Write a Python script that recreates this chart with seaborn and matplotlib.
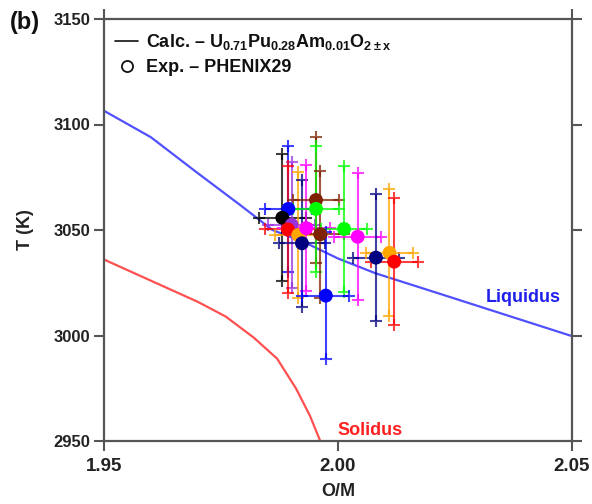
import matplotlib
matplotlib.use("Agg")
import matplotlib.pyplot as plt
import seaborn as sns
import numpy as np
import pandas as pd
from matplotlib.lines import Line2D

# ---- data ----
liq_x = [1.95, 1.96, 1.97, 1.979, 1.986, 1.993, 2.000, 2.008, 2.022, 2.05]
liq_T = [3106.5, 3094, 3077, 3062, 3050, 3044, 3036.5, 3029.5, 3019.6, 2999.7]

sol_x = [1.95, 1.96, 1.97, 1.976, 1.982, 1.987, 1.991, 1.994, 1.9962]
sol_T = [3036, 3026, 3016, 3009, 2999, 2989, 2975, 2962, 2950]

exp_x = [1.9894, 1.9881, 1.9901, 1.9893, 1.9915, 1.9923, 1.9932, 1.9953,
         1.9953, 1.9962, 2.0013, 2.0042, 1.9974, 2.0081, 2.0110, 2.0120]
exp_T = [3060.0, 3055.8, 3052.4, 3050.3, 3047.6, 3043.7, 3050.9, 3064.2,
         3060.0, 3048.0, 3050.5, 3046.8, 3018.9, 3036.9, 3039.2, 3035.0]
exp_xerr = [0.005] * 16
exp_Terr = [30] * 16
exp_col = ["#0000ff", "#000000", "#9a30e0", "#ff0000", "#ffa500", "#000080",
           "#ff00ff", "#7f2200", "#00ff00", "#7f2200", "#00ff00", "#ff00ff",
           "#0000ff", "#000080", "#ffa500", "#ff0000"]

xticks = [1.95, 2.00, 2.05]
xticklabels = ["1.95", "2.00", "2.05"]
top_ticks = [1.95, 2.05]
yticks = [2950, 3000, 3050, 3100, 3150]

# ---- style ----
sns.set_theme(style="white")
plt.rcParams["font.family"] = ["Liberation Sans", "DejaVu Sans"]
plt.rcParams["font.weight"] = "bold"
plt.rcParams["mathtext.fontset"] = "custom"
plt.rcParams["mathtext.rm"] = "Liberation Sans:bold"
plt.rcParams["mathtext.bf"] = "Liberation Sans:bold"
plt.rcParams["mathtext.default"] = "bf"

fig = plt.figure(figsize=(5.92, 5.04), dpi=100)
ax = fig.add_axes([104 / 592, 63 / 504, 468 / 592, 422 / 504])

liq = pd.DataFrame({"x": liq_x, "T": liq_T})
sol = pd.DataFrame({"x": sol_x, "T": sol_T})
sns.lineplot(data=liq, x="x", y="T", ax=ax, color="#5050ff", lw=1.6, sort=False, zorder=1)
sns.lineplot(data=sol, x="x", y="T", ax=ax, color="#ff5050", lw=1.6, sort=False, zorder=1)

for x, T, xe, te, c in zip(exp_x, exp_T, exp_xerr, exp_Terr, exp_col):
    ax.errorbar(x, T, xerr=xe, yerr=te, fmt="none", ecolor=c, elinewidth=1.5,
                capsize=0, alpha=0.75, zorder=2)
    ax.plot([x, x, x - xe, x + xe], [T + te, T - te, T, T], ls="none",
            marker="+", ms=9, mew=1.5, color=c, alpha=0.75, zorder=2)

exp = pd.DataFrame({"x": exp_x, "T": exp_T, "c": exp_col})
sns.scatterplot(data=exp, x="x", y="T", ax=ax, c=exp["c"], s=100,
                edgecolor="none", linewidth=0, zorder=3, legend=False)

ax.set_xlim(1.95, 2.05)
ax.set_ylim(2950, 3150)
ax.set_xticks(xticks)
ax.set_xticklabels(xticklabels)
ax.set_yticks(yticks)
ax.tick_params(axis="both", which="both", direction="out", length=7, width=1.5,
               color="#555555", labelsize=13, pad=3)
ax.tick_params(axis="x", top=False, bottom=True, labelsize=13.5, pad=5)
ax.tick_params(axis="y", left=True, right=True, labelsize=12)
# spine-crossing ticks at the top corners
sec = ax.secondary_xaxis("top")
sec.set_xticks(top_ticks)
sec.set_xticklabels([])
sec.tick_params(direction="out", length=7, width=1.5, color="#555555")
sec.spines["top"].set_visible(False)
for lab in ax.get_xticklabels() + ax.get_yticklabels():
    lab.set_fontweight("bold")
    lab.set_color("#222222")
for s in ax.spines.values():
    s.set_color("#555555")
    s.set_linewidth(1.6)

ax.set_xlabel("O/M", fontsize=13, fontweight="bold", labelpad=6, color="#222222")
ax.set_ylabel("T (K)", fontsize=13, fontweight="bold", labelpad=14, color="#222222")

ax.text(2.0395, 3018, "Liquidus", color="#2020ee", fontsize=13, fontweight="bold",
        ha="center", va="center")
ax.text(1.9998, 2955, "Solidus", color="#ff2020", fontsize=13, fontweight="bold",
        ha="left", va="center")

fig.text(25 / 592, 1 - 22 / 504, "(b)", fontsize=17, fontweight="bold",
         ha="center", va="center", color="#111111")

handles = [Line2D([], [], color="#111111", lw=1.2),
           Line2D([], [], ls="none", marker="o", mfc="white", mec="#111111",
                  mew=1.3, ms=8)]
labels = [r"Calc. – U$_{0.71}$Pu$_{0.28}$Am$_{0.01}$O$_{2\pm x}$",
          "Exp. – PHENIX29"]
leg = ax.legend(handles, labels, loc="upper left", bbox_to_anchor=(0.0, 0.995),
                frameon=False, fontsize=13, handlelength=1.3, handletextpad=0.45,
                labelspacing=0.4, borderaxespad=0.2)
for t in leg.get_texts():
    t.set_fontweight("bold")
    t.set_color("#111111")

fig.savefig("out.png", dpi=100)
